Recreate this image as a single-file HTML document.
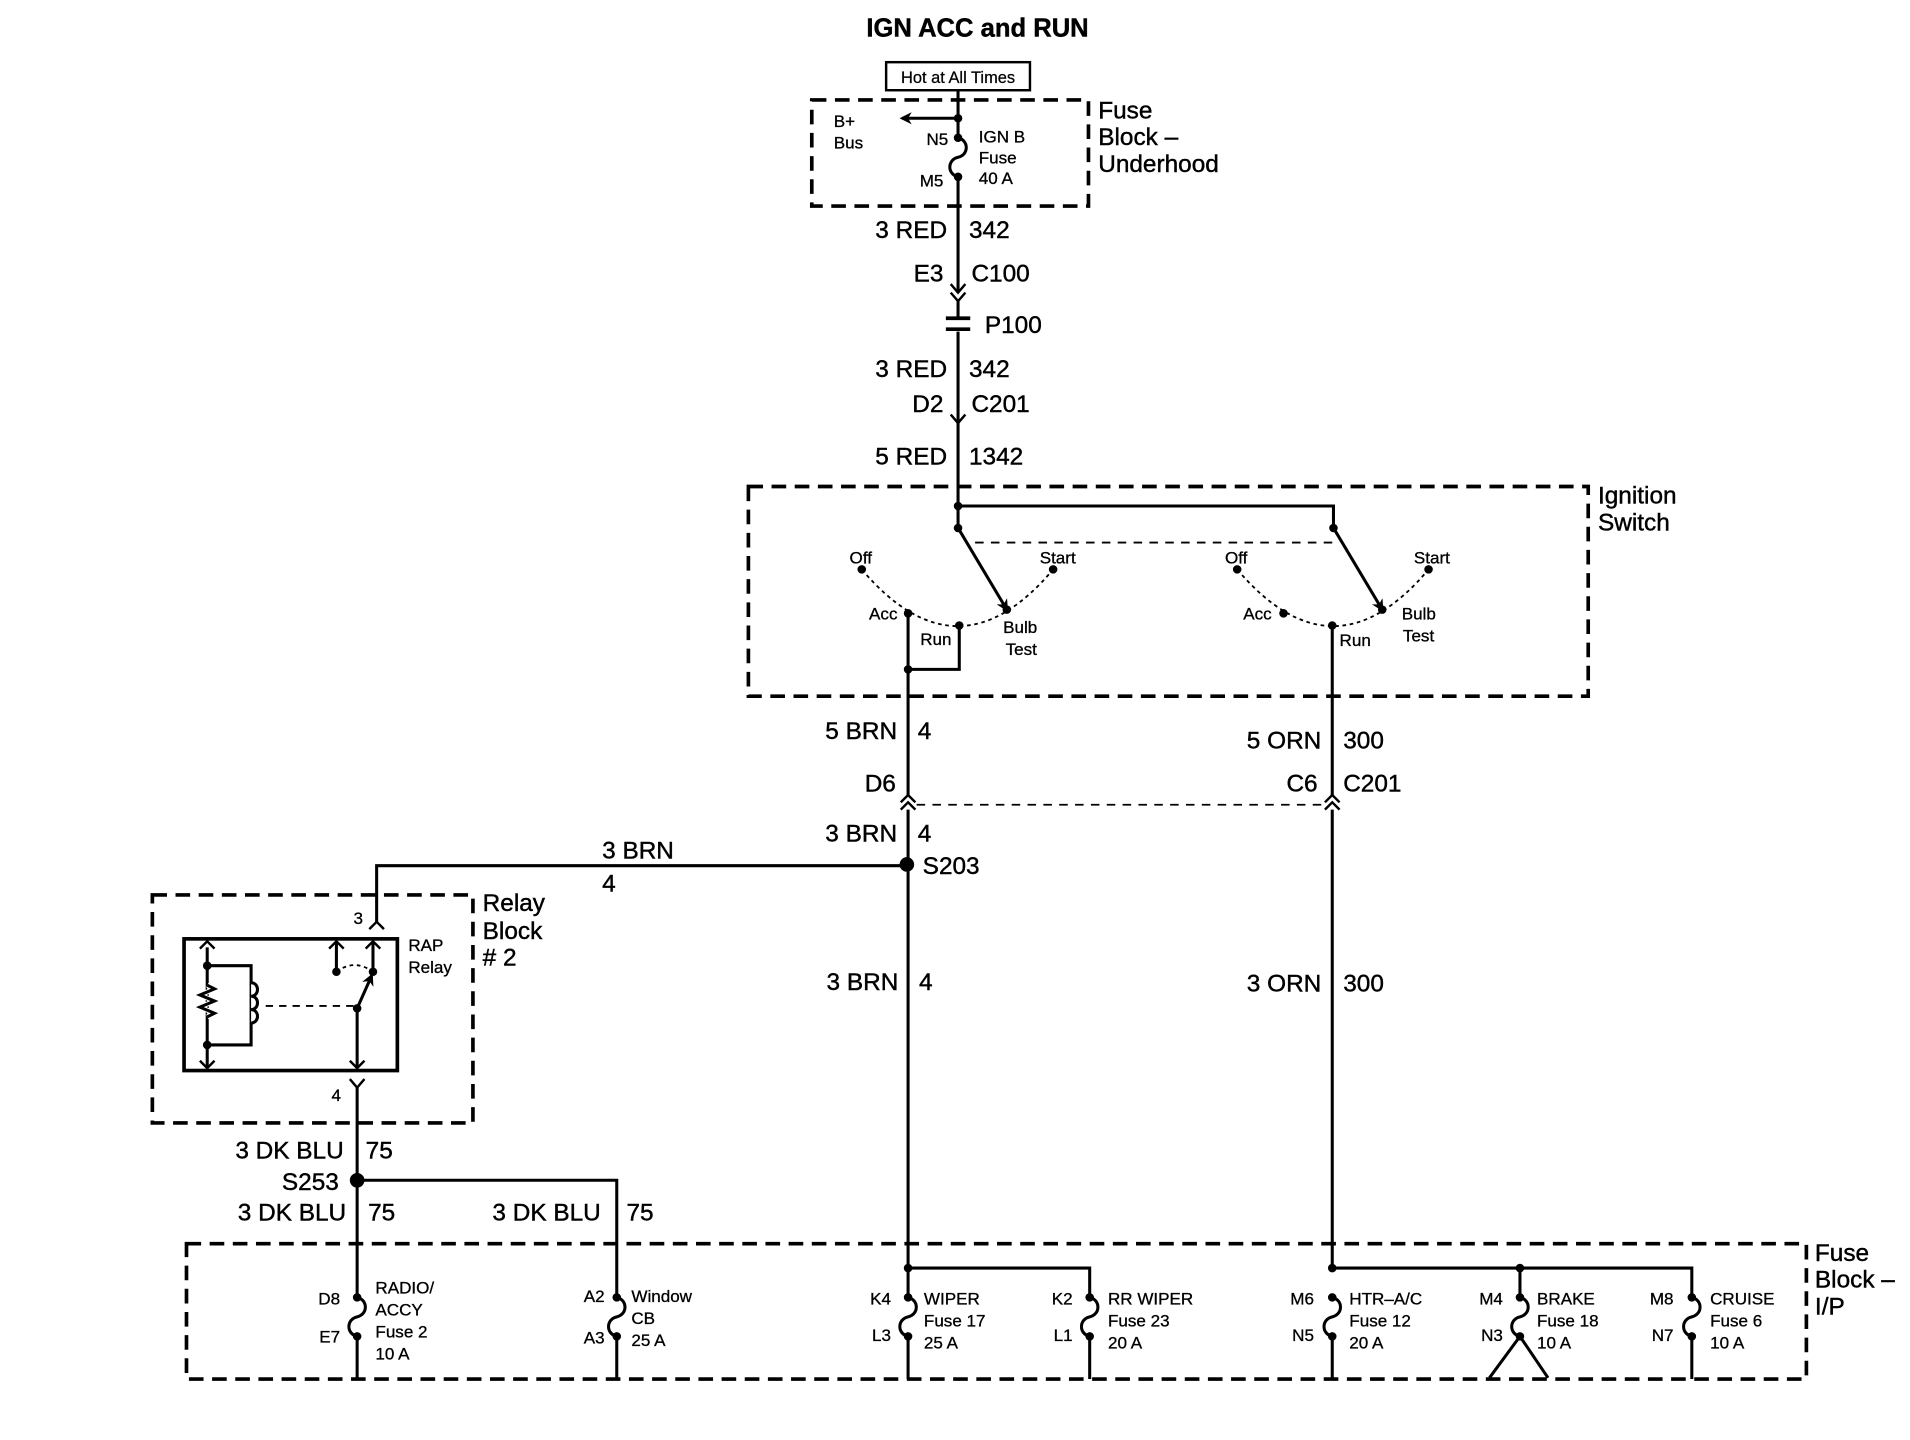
<!DOCTYPE html>
<html><head><meta charset="utf-8"><style>
html,body{margin:0;padding:0;background:#fff;}
svg{display:block;}
text{font-family:"Liberation Sans",sans-serif;fill:#000;stroke:#000;stroke-width:0.35px;}
.b{font-size:20px;}
.s{font-size:14px;stroke-width:0.25px;}
.r{text-anchor:end;}
</style></head><body>
<svg width="1910" height="1440" viewBox="0 0 1567 1181" preserveAspectRatio="none" xmlns="http://www.w3.org/2000/svg">
<defs>
<marker id="ah" markerWidth="10" markerHeight="10" refX="8" refY="5" orient="auto" markerUnits="userSpaceOnUse"><path d="M0,0 L10,5 L0,10 L3,5 z" fill="#000"/></marker>
</defs>
<g stroke="#000" fill="none" stroke-width="2.5">
<g stroke-dasharray="12,7" stroke-width="3">
<rect x="666" y="82" width="227" height="87"/>
<rect x="614" y="399" width="689" height="172"/>
<rect x="125" y="734" width="263" height="187"/>
<rect x="153" y="1020" width="1329" height="111"/>
</g>
<rect x="727" y="51" width="118" height="23" stroke-width="2"/>
<path d="M786,74 V113 M786,145 V240"/>
<path d="M786,97 H740" marker-end="url(#ah)"/>
<path d="M786,113 c9,2 9,14 0,16 c-9,2 -9,14 0,16"/>
<path d="M780,233 L786,240 L792,233 M780,240 L786,247 L792,240" stroke-width="2"/>
<path d="M786,247 V260 M786,272 V345"/>
<path d="M776,261 H796 M776,270 H796" stroke-width="3"/>
<path d="M780,340 L786,347 L792,340" stroke-width="2"/>
<path d="M786,345 V433 M786,415 H1094 V433"/>
<path d="M800,445 H1094" stroke-dasharray="7,6" stroke-width="1.5"/>
<path d="M786,433 L826,500" marker-end="url(#ah)"/>
<path d="M1094,433 L1134,500" marker-end="url(#ah)"/>
<path d="M707,467 Q786,560 864,467" stroke-dasharray="3,3" stroke-width="1.5"/>
<path d="M1015,467 Q1094,560 1172,467" stroke-dasharray="3,3" stroke-width="1.5"/>
<path d="M745,503 V549 H787 V513"/>
<path d="M745,549 V652 M1093,513 V652"/>
<path d="M739,658 L745,652 L751,658 M739,664 L745,658 L751,664 M1087,658 L1093,652 L1099,658 M1087,664 L1093,658 L1099,664" stroke-width="2"/>
<path d="M752,660 H1087" stroke-dasharray="7,6" stroke-width="1.5"/>
<path d="M745,664 V1040 M1093,664 V1040"/>
<path d="M744,710 H309 V757"/>
<path d="M303,762 L309,756 L315,762" stroke-width="2"/>
<rect x="151" y="770" width="175" height="108" stroke-width="3"/>
<path d="M170,777 V876 M170,792 H206 V857 H170" />
<path d="M164,778 L170,772 L176,778 M164,870 L170,876 L176,870 M270,778 L276,772 L282,778 M300,778 L306,772 L312,778 M287,870 L293,876 L299,870" stroke-width="2"/>
<path d="M170,808 l6,3 l-12,5 l12,5 l-12,5 l12,5 l-6,3" fill="#fff" stroke="#fff" stroke-width="4"/>
<path d="M170,808 l6,3 l-12,5 l12,5 l-12,5 l12,5 l-6,3"/>
<path d="M206,806 c7,0 7,11 0,11 c7,0 7,11 0,11 c7,0 7,11 0,11" fill="#fff"/>
<path d="M218,825 H292" stroke-dasharray="6,5" stroke-width="1.5"/>
<path d="M276,772 V797 M306,772 V797 M293,827 V876"/>
<path d="M293,827 L305,800" marker-end="url(#ah)"/>
<path d="M276,797 Q291,786 306,797" stroke-dasharray="3,3" stroke-width="1.5"/>
<path d="M287,885 L293,892 L299,885" stroke-width="2"/>
<path d="M293,892 V1064 M293,968 H506 V1064"/>
<path d="M744,1040 H894 V1064 M1093,1040 H1388 V1064 M1247,1040 V1064 M745,1040 V1064"/>
<g>
<path d="M293,1064 c9,2 9,14 0,16 c-9,2 -9,14 0,16 V1131"/>
<path d="M506,1064 c9,2 9,14 0,16 c-9,2 -9,14 0,16 V1131"/>
<path d="M745,1064 c9,2 9,14 0,16 c-9,2 -9,14 0,16 V1131"/>
<path d="M894,1064 c9,2 9,14 0,16 c-9,2 -9,14 0,16 V1131"/>
<path d="M1093,1064 c9,2 9,14 0,16 c-9,2 -9,14 0,16 V1131"/>
<path d="M1247,1064 c9,2 9,14 0,16 c-9,2 -9,14 0,16 M1247,1096 L1222,1130 M1247,1096 L1270,1130"/>
<path d="M1388,1064 c9,2 9,14 0,16 c-9,2 -9,14 0,16 V1131"/>
</g>
</g>
<g fill="#000">
<circle cx="786" cy="97" r="3.5"/><circle cx="786" cy="113" r="3.5"/><circle cx="786" cy="145" r="3.5"/>
<circle cx="786" cy="415" r="3.5"/><circle cx="786" cy="433" r="3.5"/><circle cx="1094" cy="433" r="3.5"/>
<circle cx="707" cy="467" r="3.5"/><circle cx="864" cy="467" r="3.5"/><circle cx="745" cy="503" r="3.5"/><circle cx="787" cy="513" r="3.5"/><circle cx="826" cy="500" r="3.5"/><circle cx="745" cy="549" r="3.5"/>
<circle cx="1015" cy="467" r="3.5"/><circle cx="1172" cy="467" r="3.5"/><circle cx="1053" cy="503" r="3.5"/><circle cx="1093" cy="513" r="3.5"/><circle cx="1134" cy="500" r="3.5"/>
<circle cx="744" cy="709" r="6"/><circle cx="293" cy="968" r="6"/>
<circle cx="170" cy="792" r="3.5"/><circle cx="170" cy="857" r="3.5"/><circle cx="276" cy="797" r="3.5"/><circle cx="306" cy="797" r="3.5"/><circle cx="293" cy="827" r="3.5"/>
<circle cx="745" cy="1040" r="3.5"/><circle cx="1093" cy="1040" r="3.5"/><circle cx="1247" cy="1040" r="3.5"/>
<circle cx="293" cy="1064" r="3.5"/><circle cx="293" cy="1096" r="3.5"/>
<circle cx="506" cy="1064" r="3.5"/><circle cx="506" cy="1096" r="3.5"/>
<circle cx="745" cy="1064" r="3.5"/><circle cx="745" cy="1096" r="3.5"/>
<circle cx="894" cy="1064" r="3.5"/><circle cx="894" cy="1096" r="3.5"/>
<circle cx="1093" cy="1064" r="3.5"/><circle cx="1093" cy="1096" r="3.5"/>
<circle cx="1247" cy="1064" r="3.5"/><circle cx="1247" cy="1096" r="3.5"/>
<circle cx="1388" cy="1064" r="3.5"/><circle cx="1388" cy="1096" r="3.5"/>
</g>
<text x="802" y="30" text-anchor="middle" font-weight="bold" font-size="21">IGN ACC and RUN</text>
<text x="786" y="68" text-anchor="middle" font-size="13.5" style="stroke-width:0.2px">Hot at All Times</text>
<text class="s" x="684" y="104">B+</text><text class="s" x="684" y="122">Bus</text>
<text class="s r" x="778" y="119">N5</text><text class="s r" x="774" y="153">M5</text>
<text class="s" x="803" y="117">IGN B</text><text class="s" x="803" y="134">Fuse</text><text class="s" x="803" y="151">40  A</text>
<text class="b" x="901" y="97">Fuse</text><text class="b" x="901" y="119">Block –</text><text class="b" x="901" y="141">Underhood</text>
<text class="b r" x="777" y="195">3 RED</text><text class="b" x="795" y="195">342</text>
<text class="b r" x="774" y="231">E3</text><text class="b" x="797" y="231">C100</text>
<text class="b" x="808" y="273">P100</text>
<text class="b r" x="777" y="309">3 RED</text><text class="b" x="795" y="309">342</text>
<text class="b r" x="774" y="338">D2</text><text class="b" x="797" y="338">C201</text>
<text class="b r" x="777" y="381">5 RED</text><text class="b" x="795" y="381">1342</text>
<text class="b" x="1311" y="413">Ignition</text><text class="b" x="1311" y="435">Switch</text>
<text class="s" x="697" y="462">Off</text><text class="s" x="853" y="462">Start</text><text class="s" x="713" y="508">Acc</text><text class="s" x="755" y="529">Run</text><text class="s" x="823" y="519">Bulb</text><text class="s" x="825" y="537">Test</text>
<text class="s" x="1005" y="462">Off</text><text class="s" x="1160" y="462">Start</text><text class="s" x="1020" y="508">Acc</text><text class="s" x="1099" y="530">Run</text><text class="s" x="1150" y="508">Bulb</text><text class="s" x="1151" y="526">Test</text>
<text class="b r" x="736" y="606">5 BRN</text><text class="b" x="753" y="606">4</text>
<text class="b r" x="1084" y="614">5 ORN</text><text class="b" x="1102" y="614">300</text>
<text class="b r" x="735" y="649">D6</text><text class="b r" x="1081" y="649">C6</text><text class="b" x="1102" y="649">C201</text>
<text class="b r" x="736" y="690">3 BRN</text><text class="b" x="753" y="690">4</text>
<text class="b" x="757" y="717">S203</text>
<text class="b" x="494" y="704">3 BRN</text><text class="b" x="494" y="731">4</text>
<text class="b r" x="737" y="812">3 BRN</text><text class="b" x="754" y="812">4</text>
<text class="b r" x="1084" y="813">3 ORN</text><text class="b" x="1102" y="813">300</text>
<text class="b" x="396" y="747">Relay</text><text class="b" x="396" y="770">Block</text><text class="b" x="396" y="792"># 2</text>
<text class="s" x="290" y="758">3</text><text class="s" x="272" y="903">4</text>
<text class="s" x="335" y="780">RAP</text><text class="s" x="335" y="798">Relay</text>
<text class="b r" x="282" y="950">3 DK BLU</text><text class="b" x="300" y="950">75</text>
<text class="b r" x="278" y="976">S253</text>
<text class="b r" x="284" y="1001">3 DK BLU</text><text class="b" x="302" y="1001">75</text>
<text class="b" x="404" y="1001">3 DK BLU</text><text class="b" x="514" y="1001">75</text>
<text class="b" x="1489" y="1034">Fuse</text><text class="b" x="1489" y="1056">Block –</text><text class="b" x="1489" y="1078">I/P</text>
<text class="s r" x="279" y="1070">D8</text><text class="s r" x="279" y="1101">E7</text>
<text class="s" x="308" y="1061">RADIO/</text><text class="s" x="308" y="1079">ACCY</text><text class="s" x="308" y="1097">Fuse 2</text><text class="s" x="308" y="1115">10 A</text>
<text class="s r" x="496" y="1068">A2</text><text class="s r" x="496" y="1102">A3</text>
<text class="s" x="518" y="1068">Window</text><text class="s" x="518" y="1086">CB</text><text class="s" x="518" y="1104">25 A</text>
<text class="s r" x="731" y="1070">K4</text><text class="s r" x="731" y="1100">L3</text>
<text class="s" x="758" y="1070">WIPER</text><text class="s" x="758" y="1088">Fuse 17</text><text class="s" x="758" y="1106">25 A</text>
<text class="s r" x="880" y="1070">K2</text><text class="s r" x="880" y="1100">L1</text>
<text class="s" x="909" y="1070">RR WIPER</text><text class="s" x="909" y="1088">Fuse 23</text><text class="s" x="909" y="1106">20 A</text>
<text class="s r" x="1078" y="1070">M6</text><text class="s r" x="1078" y="1100">N5</text>
<text class="s" x="1107" y="1070">HTR–A/C</text><text class="s" x="1107" y="1088">Fuse 12</text><text class="s" x="1107" y="1106">20 A</text>
<text class="s r" x="1233" y="1070">M4</text><text class="s r" x="1233" y="1100">N3</text>
<text class="s" x="1261" y="1070">BRAKE</text><text class="s" x="1261" y="1088">Fuse 18</text><text class="s" x="1261" y="1106">10 A</text>
<text class="s r" x="1373" y="1070">M8</text><text class="s r" x="1373" y="1100">N7</text>
<text class="s" x="1403" y="1070">CRUISE</text><text class="s" x="1403" y="1088">Fuse 6</text><text class="s" x="1403" y="1106">10 A</text>
</svg>
</body></html>
